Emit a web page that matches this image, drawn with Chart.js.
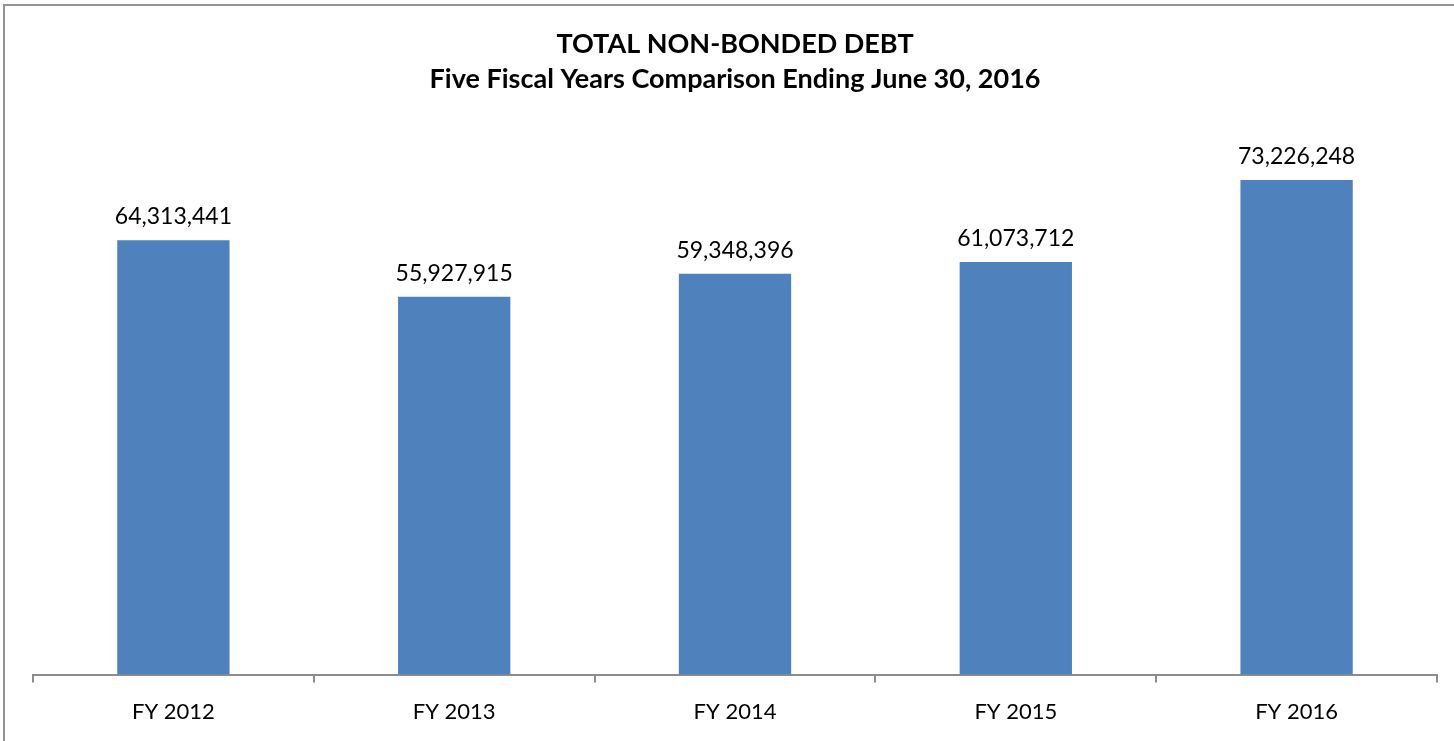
<!DOCTYPE html>
<html>
<head>
<meta charset="utf-8">
<script src="https://cdn.jsdelivr.net/npm/chart.js@4/dist/chart.umd.min.js"></script>
<style>
  html, body { margin: 0; padding: 0; background: #fff; }
  #wrap { width: 1454px; height: 741px; position: relative; }
</style>
</head>
<body>
<div id="wrap"><canvas id="debtChart"></canvas></div>
<script>
const fiscalYears = ['FY 2012', 'FY 2013', 'FY 2014', 'FY 2015', 'FY 2016'];
const debtValues = [64313441, 55927915, 59348396, 61073712, 73226248];
const titleLines = ['TOTAL NON-BONDED DEBT', 'Five Fiscal Years Comparison Ending June 30, 2016'];

const FONT = 'Lato, Carlito, "Open Sans", sans-serif';

// cadre gris autour du graphique
const frame = {
  id: 'frame',
  beforeDraw(chart) {
    const ctx = chart.ctx;
    ctx.save();
    ctx.fillStyle = '#fff';
    ctx.fillRect(0, 0, chart.width, chart.height);
    ctx.strokeStyle = '#939393';
    ctx.lineWidth = 2;
    ctx.strokeRect(4, 5, chart.width + 20, chart.height + 20);
    ctx.restore();
  }
};

// étiquettes de valeur au-dessus des barres
const valueLabels = {
  id: 'valueLabels',
  afterDatasetsDraw(chart) {
    const ctx = chart.ctx;
    const meta = chart.getDatasetMeta(0);
    ctx.save();
    ctx.font = '23px ' + FONT;
    ctx.fillStyle = '#000';
    ctx.textAlign = 'center';
    ctx.textBaseline = 'bottom';
    meta.data.forEach((bar, i) => {
      ctx.fillText(debtValues[i].toLocaleString('en-US'), bar.x, bar.y - 12);
    });
    ctx.restore();
  }
};

new Chart(document.getElementById('debtChart'), {
  type: 'bar',
  data: {
    labels: fiscalYears,
    datasets: [{
      data: debtValues,
      backgroundColor: '#4F81BD',
      borderWidth: 0,
      categoryPercentage: 1,
      barPercentage: 0.4
    }]
  },
  options: {
    responsive: true,
    maintainAspectRatio: false,
    animation: false,
    layout: { padding: { left: 33, right: 17, top: 0, bottom: 0 } },
    plugins: {
      legend: { display: false },
      tooltip: { enabled: false },
      title: {
        display: true,
        text: titleLines,
        color: '#000',
        font: { family: FONT, size: 27, weight: 'bold', lineHeight: 1.3 },
        padding: { top: 27, bottom: 37 }
      }
    },
    scales: {
      y: {
        display: false,
        min: 0,
        max: 80000000
      },
      x: {
        offset: true,
        border: { display: true, color: '#8c8c8c', width: 2 },
        grid: {
          display: true,
          offset: true,
          drawOnChartArea: false,
          drawTicks: true,
          tickLength: 8,
          color: '#8c8c8c',
          lineWidth: 2
        },
        ticks: {
          color: '#000',
          font: { family: FONT, size: 22 },
          padding: 16
        }
      }
    }
  },
  plugins: [frame, valueLabels]
});
</script>
</body>
</html>
